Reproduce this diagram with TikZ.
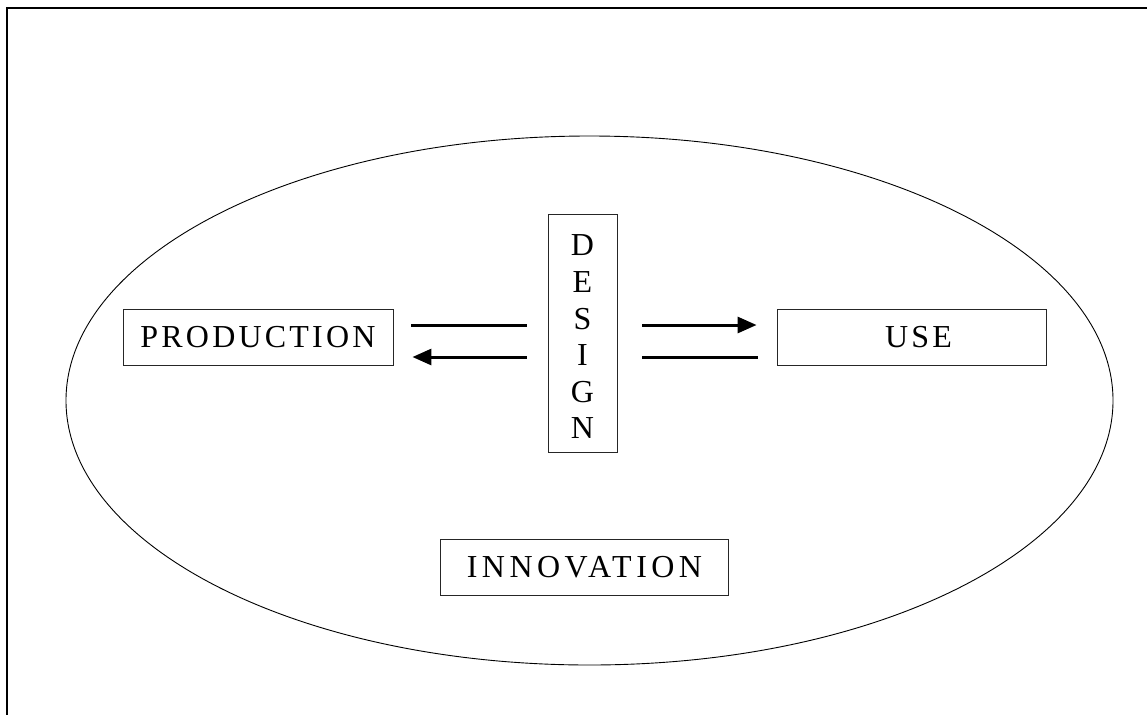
\documentclass[tikz,border=0pt]{standalone}
\usepackage{fontspec}
\setmainfont{Liberation Serif}
\newfontfamily\spacedfont[LetterSpace=10]{Liberation Serif}
\newfontfamily\widefont[LetterSpace=14]{Liberation Serif}
\usetikzlibrary{arrows.meta,calc,shapes.geometric}
\tikzset{
  box/.style={draw=black!85, line width=0.9pt, inner sep=0pt, font=\spacedfont\fontsize{32}{36.6}\selectfont},
  conn/.style={line width=3pt},
  arr/.style={conn, -{Triangle[length=19pt,width=16pt]}},
  frame/.style={line width=2.5pt}
}
\begin{document}
\begin{tikzpicture}[x=1pt,y=-1pt]
\useasboundingbox (0,0) rectangle (1147,715);
% frame (top and left only)
\draw[frame] (6,8) -- (1147,8);
\draw[frame] (7,8) -- (7,715);
% ellipse
\node[draw, line width=0.9pt, ellipse, minimum width=1047pt, minimum height=529pt, inner sep=0pt] (innov) at (589.5,400.5) {};
% boxes
\node[box, minimum width=270pt, minimum height=56pt] (prod) at (258,337) {PRODUCTION};
\node[box, minimum width=269pt, minimum height=56pt] (use) at (911.5,337) {\hspace*{14pt}USE};
\node[box, minimum width=69pt, minimum height=238pt] (design) at (582.5,333)
  {\begin{tabular}{@{}c@{}}\rule{0pt}{39.6pt}D\\E\\S\\I\\G\\N\end{tabular}};
\node[box, font=\widefont\fontsize{32}{36.6}\selectfont, minimum width=288pt, minimum height=56pt] (innovlabel) at (584.5,567) {INNOVATION};
% connectors
\draw[conn, shorten <=18pt, shorten >=21pt] ([yshift=12pt]prod.east) -- ([yshift=12pt]prod.east -| design.west);
\draw[arr, shorten <=21pt, shorten >=19pt] ([yshift=-20pt]prod.east -| design.west) -- ([yshift=-20pt]prod.east);
\draw[arr, shorten <=25pt, shorten >=20pt] ([yshift=12pt]use.west -| design.east) -- ([yshift=12pt]use.west);
\draw[conn, shorten <=25pt, shorten >=19pt] ([yshift=-20pt]use.west -| design.east) -- ([yshift=-20pt]use.west);
\end{tikzpicture}
\end{document}
